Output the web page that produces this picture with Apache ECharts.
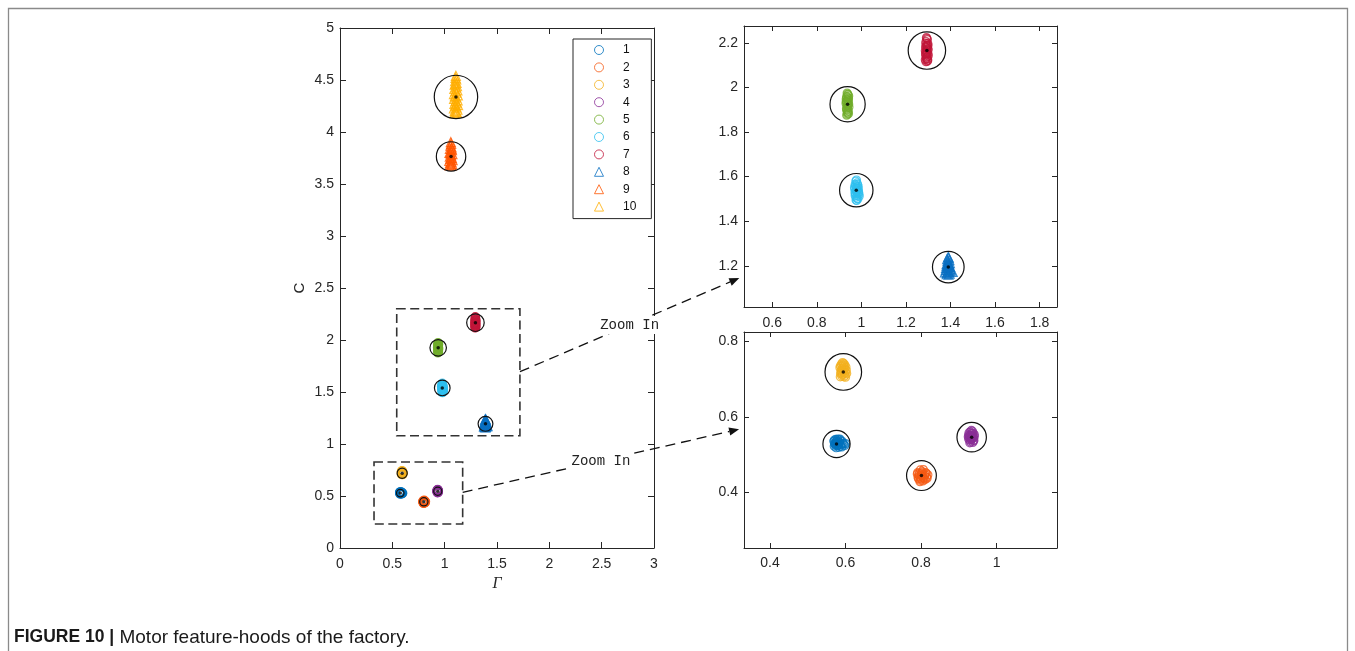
<!DOCTYPE html>
<html><head><meta charset="utf-8">
<script src="https://cdn.jsdelivr.net/npm/echarts@6/dist/echarts.min.js"></script>
<style>html,body{margin:0;padding:0;background:#fff}#c{width:1355px;height:651px}</style>
</head><body><div id="c"></div>
<script>
// ---------- data ----------
const names = ['1','2','3','4','5','6','7','8','9','10'];
const colors = ['#0072BD','#F55A14','#F2B01E','#8A2E96','#70AD2A','#2EBFEF','#C01538','#0A6FC2','#FF5500','#FFAE00'];
const symbols = ['circle','circle','circle','circle','circle','circle','circle','triangle','triangle','triangle'];

const c1 = [[0.572,0.530],[0.576,0.536],[0.580,0.524],[0.570,0.522],[0.584,0.532],[0.575,0.518],[0.579,0.541],[0.588,0.527],[0.569,0.535],[0.582,0.519],[0.593,0.530],[0.573,0.526],[0.578,0.531],[0.586,0.538],[0.598,0.524],[0.574,0.540],[0.581,0.528],[0.590,0.520],[0.571,0.528],[0.577,0.523],[0.583,0.526],[0.576,0.529],[0.591,0.535],[0.570,0.538],[0.595,0.528],[0.580,0.535],[0.587,0.522],[0.574,0.533],[0.600,0.529],[0.585,0.541]];
const c2 = [[0.795,0.450],[0.800,0.444],[0.806,0.438],[0.792,0.440],[0.803,0.455],[0.810,0.447],[0.797,0.432],[0.815,0.440],[0.790,0.448],[0.805,0.430],[0.812,0.452],[0.798,0.459],[0.808,0.436],[0.793,0.436],[0.818,0.446],[0.801,0.449],[0.796,0.441],[0.804,0.442],[0.811,0.434],[0.799,0.437],[0.802,0.452],[0.794,0.445],[0.809,0.443],[0.800,0.435],[0.814,0.450],[0.791,0.452],[0.806,0.460],[0.797,0.428],[0.816,0.437],[0.803,0.446]];
const c3 = [[0.590,0.735],[0.595,0.742],[0.598,0.728],[0.588,0.722],[0.600,0.718],[0.592,0.712],[0.586,0.706],[0.596,0.706],[0.601,0.732],[0.593,0.724],[0.589,0.740],[0.597,0.715],[0.585,0.730],[0.599,0.710],[0.594,0.738],[0.591,0.718],[0.602,0.724],[0.587,0.714],[0.596,0.733],[0.590,0.727],[0.592,0.744],[0.598,0.738],[0.586,0.735],[0.595,0.720],[0.590,0.708],[0.600,0.705],[0.588,0.717],[0.597,0.726],[0.593,0.730],[0.603,0.715]];
const c4 = [[0.930,0.560],[0.935,0.555],[0.938,0.548],[0.928,0.545],[0.933,0.540],[0.940,0.538],[0.926,0.552],[0.936,0.562],[0.931,0.533],[0.939,0.544],[0.929,0.538],[0.934,0.550],[0.941,0.553],[0.927,0.558],[0.937,0.532],[0.932,0.546],[0.935,0.542],[0.930,0.551],[0.938,0.557],[0.925,0.547],[0.933,0.564],[0.928,0.549],[0.936,0.545],[0.941,0.548],[0.931,0.541],[0.939,0.536],[0.926,0.541],[0.934,0.557],[0.929,0.531],[0.937,0.551]];
const c5 = [[0.936,1.975],[0.940,1.968],[0.934,1.960],[0.942,1.952],[0.937,1.945],[0.932,1.938],[0.941,1.932],[0.938,1.925],[0.935,1.918],[0.944,1.912],[0.933,1.905],[0.939,1.898],[0.936,1.890],[0.942,1.882],[0.934,1.876],[0.940,1.940],[0.937,1.910],[0.943,1.962],[0.931,1.928],[0.939,1.886],[0.938,1.970],[0.935,1.955],[0.941,1.945],[0.933,1.935],[0.939,1.920],[0.943,1.925],[0.934,1.900],[0.941,1.893],[0.937,1.880],[0.932,1.948]];
const c6 = [[0.975,1.580],[0.980,1.572],[0.972,1.565],[0.985,1.558],[0.977,1.550],[0.970,1.545],[0.983,1.540],[0.978,1.533],[0.988,1.528],[0.973,1.522],[0.981,1.515],[0.976,1.508],[0.990,1.512],[0.984,1.500],[0.979,1.493],[0.971,1.530],[0.986,1.548],[0.974,1.560],[0.982,1.524],[0.978,1.545],[0.978,1.585],[0.983,1.565],[0.969,1.552],[0.980,1.555],[0.975,1.538],[0.987,1.535],[0.972,1.515],[0.980,1.502],[0.989,1.520],[0.976,1.495]];
const c7 = [[1.292,2.224],[1.296,2.215],[1.290,2.206],[1.298,2.198],[1.293,2.190],[1.288,2.182],[1.297,2.175],[1.294,2.168],[1.291,2.160],[1.299,2.152],[1.289,2.145],[1.295,2.138],[1.292,2.130],[1.298,2.122],[1.290,2.116],[1.296,2.185],[1.293,2.150],[1.300,2.170],[1.287,2.165],[1.297,2.128],[1.294,2.220],[1.289,2.198],[1.299,2.190],[1.292,2.178],[1.296,2.158],[1.288,2.152],[1.300,2.142],[1.291,2.135],[1.296,2.118],[1.287,2.125]];
const c8 = [[1.390,1.240],[1.385,1.230],[1.395,1.225],[1.388,1.215],[1.393,1.208],[1.382,1.200],[1.398,1.195],[1.390,1.190],[1.386,1.182],[1.396,1.178],[1.392,1.172],[1.384,1.168],[1.400,1.185],[1.380,1.190],[1.394,1.200],[1.389,1.205],[1.375,1.170],[1.410,1.172],[1.391,1.160],[1.387,1.196],[1.392,1.235],[1.387,1.222],[1.397,1.212],[1.383,1.208],[1.392,1.198],[1.379,1.180],[1.402,1.178],[1.388,1.175],[1.396,1.165],[1.383,1.162]];
const c9 = [[1.059,3.902],[1.062,3.885],[1.055,3.868],[1.066,3.852],[1.050,3.838],[1.070,3.825],[1.058,3.812],[1.046,3.800],[1.074,3.788],[1.061,3.776],[1.049,3.764],[1.068,3.752],[1.054,3.742],[1.076,3.730],[1.044,3.722],[1.063,3.712],[1.052,3.702],[1.071,3.694],[1.058,3.686],[1.046,3.680],[1.066,3.676],[1.060,3.745],[1.056,3.795],[1.064,3.838]];
const c10 = [[1.107,4.540],[1.104,4.520],[1.111,4.505],[1.100,4.488],[1.114,4.472],[1.096,4.455],[1.118,4.440],[1.106,4.430],[1.092,4.415],[1.122,4.400],[1.102,4.392],[1.113,4.378],[1.089,4.365],[1.126,4.352],[1.098,4.345],[1.110,4.332],[1.090,4.318],[1.124,4.305],[1.104,4.296],[1.116,4.282],[1.093,4.270],[1.128,4.258],[1.100,4.248],[1.112,4.236],[1.088,4.226],[1.122,4.214],[1.097,4.204],[1.109,4.194],[1.118,4.186],[1.094,4.180],[1.106,4.262],[1.101,4.460]];
const clusters = [c1,c2,c3,c4,c5,c6,c7,c8,c9,c10];

const centers = [[0.576,0.528],[0.801,0.444],[0.594,0.719],[0.934,0.546],[0.938,1.925],[0.977,1.539],[1.294,2.166],[1.390,1.194],[1.061,3.765],[1.108,4.337]];
const radii = [0.036,0.0395,0.0485,0.039,0.079,0.075,0.084,0.071,0.141,0.208];
const topRightIdx = [4,5,6,7];
const bottomRightIdx = [0,1,2,3];

const mainX = {min:0, max:3, ticks:[0,0.5,1,1.5,2,2.5,3]};
const mainY = {min:0, max:5, ticks:[0,0.5,1,1.5,2,2.5,3,3.5,4,4.5,5]};
const trX = {min:0.473, max:1.878, ticks:[0.6,0.8,1,1.2,1.4,1.6,1.8]};
const trY = {min:1.015, max:2.276, ticks:[1.2,1.4,1.6,1.8,2,2.2]};
const brX = {min:0.331, max:1.16, ticks:[0.4,0.6,0.8,1]};
const brY = {min:0.252, max:0.825, ticks:[0.4,0.6,0.8]};

const boxes = [[0.542,1.08,1.719,2.30],[0.325,0.231,1.172,0.827]];
const arrowStarts = [[1.719,1.695],[1.172,0.535]];
const arrowEnds = [[0.452,1.145],[0.318,0.567]];
const arrowTargetGrid = [1,2];
const arrowLabel = 'Zoom In';
const captionBold = 'FIGURE 10 |';
const captionText = ' Motor feature-hoods of the factory.';

// ---------- chart ----------
const AX = '#262626';
const FONT = 'Liberation Sans, Arial, sans-serif';
function axis(grid, position, spec, showLabel, tickLen, margin, extra) {
  return Object.assign({
    type:'value', gridIndex:grid, position, min:spec.min, max:spec.max,
    axisLine:{show:true, onZero:false, lineStyle:{color:AX, width:1}},
    axisTick:{show:true, inside:true, length:tickLen, customValues:spec.ticks, lineStyle:{color:AX, width:1}},
    axisLabel:{show:showLabel, customValues:spec.ticks, margin, color:AX, fontSize:14, fontFamily:FONT, formatter:v=>String(v)},
    splitLine:{show:false}, minorTick:{show:false}
  }, extra || {});
}
const xAxes = [
  axis(0,'bottom',mainX,true,6,9,{name:'Γ', nameLocation:'middle', nameGap:26, nameTextStyle:{fontFamily:'Liberation Serif, serif', fontStyle:'italic', fontSize:16, color:AX}}),
  axis(0,'top',mainX,false,6,8),
  axis(1,'bottom',trX,true,5,9),
  axis(1,'top',trX,false,5,8),
  axis(2,'bottom',brX,true,5,8),
  axis(2,'top',brX,false,5,8)
];
const yAxes = [
  axis(0,'left',mainY,true,6,6,{name:'C', nameLocation:'middle', nameGap:33, nameTextStyle:{fontFamily:FONT, fontSize:15, color:AX}}),
  axis(0,'right',mainY,false,6,8),
  axis(1,'left',trY,true,5,6),
  axis(1,'right',trY,false,5,8),
  axis(2,'left',brY,true,5,6),
  axis(2,'right',brY,false,5,8)
];
const gAx = [0,2,4];

const series = [];
function addPoints(i, g) {
  series.push({
    type:'scatter', name:names[i], xAxisIndex:gAx[g], yAxisIndex:gAx[g],
    data:clusters[i], symbol:symbols[i], symbolSize: symbols[i]==='triangle' ? 9 : 8,
    itemStyle:{color:'rgba(0,0,0,0)', borderColor:colors[i], borderWidth:1.2},
    emphasis:{disabled:true}, silent:true, z:2, animation:false
  });
}
const gridSets = [[0,1,2,3,4,5,6,7,8,9], topRightIdx, bottomRightIdx];
gridSets.forEach((set,g)=>set.forEach(i=>addPoints(i,g)));

gridSets.forEach((set,g)=>{
  series.push({
    type:'custom', xAxisIndex:gAx[g], yAxisIndex:gAx[g], silent:true, z:3, animation:false,
    data: set.map(i=>[centers[i][0], centers[i][1], radii[i]]),
    renderItem:(params, api)=>{
      const c = api.coord([api.value(0), api.value(1)]);
      const s = api.size([api.value(2), api.value(2)]);
      return {type:'circle', shape:{cx:c[0], cy:c[1], r:(s[0]+s[1])/2}, style:{fill:'none', stroke:'#111', lineWidth:1.2}};
    }
  });
  series.push({
    type:'scatter', xAxisIndex:gAx[g], yAxisIndex:gAx[g], silent:true, z:4, animation:false,
    data: set.map(i=>centers[i]), symbol:'circle', symbolSize:3.5,
    itemStyle:{color:'#000'}, emphasis:{disabled:true}
  });
});

series.push({
  type:'custom', xAxisIndex:0, yAxisIndex:0, silent:true, z:3, animation:false,
  data: boxes,
  renderItem:(params, api)=>{
    const p0 = api.coord([api.value(0), api.value(1)]);
    const p1 = api.coord([api.value(2), api.value(3)]);
    return {type:'rect', shape:{x:Math.min(p0[0],p1[0]), y:Math.min(p0[1],p1[1]), width:Math.abs(p1[0]-p0[0]), height:Math.abs(p1[1]-p0[1])},
      style:{fill:'none', stroke:'#333', lineWidth:1.6, lineDash:[9,4.5]}};
  }
});

const chart = echarts.init(document.getElementById('c'), null, {renderer:'canvas'});
chart.setOption({
  backgroundColor:'#fff',
  animation:false,
  grid:[
    {left:340, top:28, width:314, height:520},
    {left:744, top:26, width:313, height:281},
    {left:744, top:332, width:313, height:216}
  ],
  xAxis:xAxes, yAxis:yAxes,
  legend:{
    orient:'vertical', left:573, top:39, selectedMode:false, symbolKeepAspect:true,
    data: names.map((n,i)=>({name:n, icon:symbols[i], itemStyle:{color:'rgba(0,0,0,0)', borderColor:colors[i], borderWidth:1}})),
    itemWidth:9, itemHeight:9, itemGap:5.4,
    textStyle:{fontSize:12, lineHeight:12, color:'#111', fontFamily:FONT, padding:[0,0,0,14.5]},
    padding:[5,15,6,21], borderColor:AX, borderWidth:1, backgroundColor:'#fff', z:10
  },
  series
});

// annotations
const graphics = [
  {type:'rect', shape:{x:8.5, y:8.5, width:1339, height:700}, style:{fill:'none', stroke:'#8a8a8a', lineWidth:1.3}, silent:true, z:1},
  {type:'text', left:14, top:628, silent:true, z:50,
    style:{text:'{b|'+captionBold+'}{r|'+captionText+'}', rich:{
      b:{fontFamily:FONT, fontWeight:'bold', fontSize:17.5, fill:'#1a1a1a'},
      r:{fontFamily:FONT, fontSize:19, fill:'#1a1a1a'}}}}
];
arrowStarts.forEach((s,k)=>{
  const p0 = chart.convertToPixel({gridIndex:0}, s);
  const p1 = chart.convertToPixel({gridIndex:arrowTargetGrid[k]}, arrowEnds[k]);
  const dx = p1[0]-p0[0], dy = p1[1]-p0[1], L = Math.hypot(dx,dy);
  const ux = dx/L, uy = dy/L, nx = -uy, ny = ux;
  const hl = 10, hw = 4;
  const bx = p1[0]-hl*ux, by = p1[1]-hl*uy;
  graphics.push({type:'line', shape:{x1:p0[0], y1:p0[1], x2:bx, y2:by}, style:{stroke:'#111', lineWidth:1.3, lineDash:[10,6]}, silent:true, z:40});
  graphics.push({type:'polygon', shape:{points:[[p1[0],p1[1]],[bx+hw*nx,by+hw*ny],[bx-hw*nx,by-hw*ny]]}, style:{fill:'#111'}, silent:true, z:41});
  graphics.push({type:'text', x:(p0[0]+p1[0])/2, y:(p0[1]+p1[1])/2, silent:true, z:45,
    style:{text:arrowLabel, fontFamily:'Liberation Mono, Courier New, monospace', fontSize:14, fill:'#222',
      align:'center', verticalAlign:'middle', backgroundColor:'#fff', padding:[2,1]}});
});
chart.setOption({graphic:graphics});
</script></body></html>
